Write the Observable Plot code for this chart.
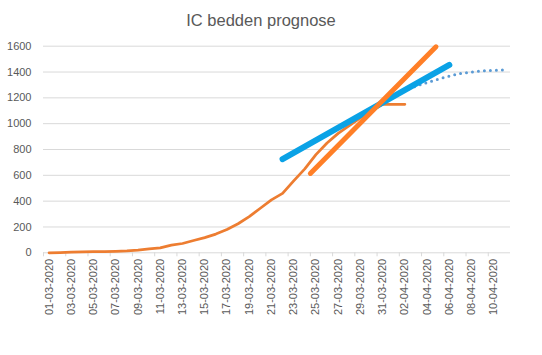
<!DOCTYPE html>
<html><head><meta charset="utf-8">
<script src="https://cdn.jsdelivr.net/npm/d3@7"></script>
<script src="https://cdn.jsdelivr.net/npm/@observablehq/plot@0.6"></script>
<style>
body{margin:0;background:#fff;}
#chart{position:relative;width:542px;height:355px;background:#fff;}
#title{position:absolute;left:0;width:522px;top:12px;text-align:center;font:16.5px/16.5px "Liberation Sans",Arial,sans-serif;color:#595959;}
#plot{position:absolute;left:0;top:34px;}
</style></head><body>
<div id="chart"><div id="title">IC bedden prognose</div><div id="plot"></div></div>
<script>
// categories (one per day)
const days = [
  "01-03-2020","02-03-2020","03-03-2020","04-03-2020","05-03-2020","06-03-2020","07-03-2020",
  "08-03-2020","09-03-2020","10-03-2020","11-03-2020","12-03-2020","13-03-2020","14-03-2020",
  "15-03-2020","16-03-2020","17-03-2020","18-03-2020","19-03-2020","20-03-2020","21-03-2020",
  "22-03-2020","23-03-2020","24-03-2020","25-03-2020","26-03-2020","27-03-2020","28-03-2020",
  "29-03-2020","30-03-2020","31-03-2020","01-04-2020","02-04-2020","03-04-2020","04-04-2020",
  "05-04-2020","06-04-2020","07-04-2020","08-04-2020","09-04-2020","10-04-2020","11-04-2020"
];
// actual IC beds (from 01-03-2020)
const actual = [0,2,5,8,10,10,12,15,20,30,38,60,72,95,118,145,180,225,280,345,410,460,
  557,650,760,850,925,985,1045,1100,1150,1150,1150];
// logistic forecast (dotted), starting at day index 29
const forecastStart = 29;
const forecast = [1120,1165,1210,1255,1290,1318,1345,1368,1388,1400,1408,1413,1416];
// blue linear trend (day index, value)
const blueTrendX = [21, 36];
const blueTrendY = [725, 1455];
// orange linear trend (day index, value)
const orangeTrendX = [23.5, 34.8];
const orangeTrendY = [615, 1595];
// y ticks
const yTicks = [0,200,400,600,800,1000,1200,1400,1600];

const actualRows = actual.map((v, i) => ({x: i, y: v}));
const forecastRows = forecast.map((v, i) => ({x: forecastStart + i, y: v}));
const blueRows = blueTrendX.map((x, i) => ({x, y: blueTrendY[i]}));
const orangeRows = orangeTrendX.map((x, i) => ({x, y: orangeTrendY[i]}));
const labelTicks = days.map((d, i) => i).filter(i => i % 2 === 0 && i < 41);
const boundaryTicks = labelTicks.map(i => i - 0.5);

const chart = Plot.plot({
  width: 542, height: 321,
  marginTop: 11.7, marginBottom: 102.7, marginLeft: 43, marginRight: 32,
  style: {fontFamily: "Liberation Sans, Arial, sans-serif", fontSize: "11px", color: "#595959", background: "#fff"},
  x: {type: "linear", domain: [-0.5, days.length - 0.5]},
  y: {domain: [0, 1600]},
  marks: [
    Plot.gridY(yTicks.filter(t => t > 0), {stroke: "#d9d9d9", strokeOpacity: 1, strokeWidth: 1}),
    Plot.ruleY([0], {stroke: "#d9d9d9", strokeWidth: 1}),
    Plot.axisY(yTicks, {tickSize: 0, tickPadding: 12, label: null, fill: "#595959", tickFormat: d => String(d)}),
    Plot.axisX(boundaryTicks, {tickSize: 4, stroke: "#d9d9d9", strokeOpacity: 1, tickFormat: () => "", label: null}),
    Plot.axisX(labelTicks, {tickSize: 0, tickPadding: 6, tickRotate: -90, tickFormat: i => days[i], label: null, fill: "#595959"}),
    Plot.line(actualRows, {x: "x", y: "y", stroke: "#ED7D31", strokeWidth: 2.75, curve: "linear"}),
    Plot.line(forecastRows, {x: "x", y: "y", stroke: "#5B9BD5", strokeWidth: 3, strokeDasharray: "0 6", strokeLinecap: "round", curve: "monotone-x"}),
    Plot.line(blueRows, {x: "x", y: "y", stroke: "#0AA2E6", strokeWidth: 6, strokeLinecap: "round"}),
    Plot.line(orangeRows, {x: "x", y: "y", stroke: "#FF7F27", strokeWidth: 5, strokeLinecap: "round"})
  ]
});
document.getElementById("plot").appendChild(chart);
</script>
</body></html>
